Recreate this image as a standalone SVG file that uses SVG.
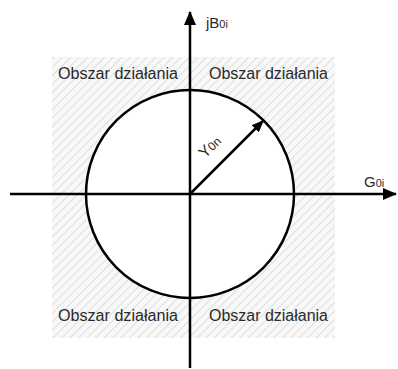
<svg xmlns="http://www.w3.org/2000/svg" width="398" height="369" viewBox="0 0 398 369">
<defs>
<pattern id="hatch" patternUnits="userSpaceOnUse" width="6" height="6" patternTransform="rotate(45)">
<rect width="6" height="6" fill="#f8f8f8"/>
<line x1="0" y1="0" x2="0" y2="6" stroke="#d6d6d6" stroke-width="1.6"/>
</pattern>
<marker id="arr" viewBox="0 0 12 10" refX="11" refY="5" markerWidth="12" markerHeight="10" markerUnits="userSpaceOnUse" orient="auto">
<path d="M0,0 L12,5 L0,10 Z" fill="#000"/>
</marker>
<marker id="arrBig" viewBox="0 0 14 12" refX="13" refY="6" markerWidth="14" markerHeight="12" markerUnits="userSpaceOnUse" orient="auto">
<path d="M0,0 L14,6 L0,12 Z" fill="#000"/>
</marker>
</defs>
<style>
.lbl{font-family:"Liberation Sans",Arial,sans-serif;font-size:16px;fill:#2a2a2a}
.ax{font-family:"Liberation Sans",Arial,sans-serif;fill:#2a2a2a}
.ln{stroke:#000;stroke-width:2.5;fill:none}
</style>
<rect x="0" y="0" width="398" height="369" fill="#fff"/>
<g id="region">
<rect x="52" y="57" width="283" height="281" fill="url(#hatch)"/>
</g>
<g id="circle">
<circle cx="190" cy="194" r="104" fill="#fff" stroke="#000" stroke-width="2.5"/>
</g>
<g id="connectors">
<line class="ln" x1="10" y1="194" x2="396" y2="194" marker-end="url(#arrBig)"/>
<line class="ln" x1="190" y1="368" x2="190" y2="12" marker-end="url(#arrBig)"/>
<line class="ln" x1="190" y1="194" x2="263" y2="121" marker-end="url(#arr)"/>
</g>
<g id="labels">
<text class="lbl" x="58" y="79" textLength="120" lengthAdjust="spacingAndGlyphs">Obszar działania</text>
<text class="lbl" x="209" y="79" textLength="119" lengthAdjust="spacingAndGlyphs">Obszar działania</text>
<text class="lbl" x="58" y="321" textLength="120" lengthAdjust="spacingAndGlyphs">Obszar działania</text>
<text class="lbl" x="209" y="321" textLength="119" lengthAdjust="spacingAndGlyphs">Obszar działania</text>
<text class="ax" x="206" y="28" font-size="15">jB<tspan font-size="11">0i</tspan></text>
<text class="ax" x="364" y="187" font-size="15">G<tspan font-size="11">0i</tspan></text>
<text class="ax" transform="translate(205,159) rotate(-45)" font-size="16">Y<tspan font-size="12">0n</tspan></text>
</g>
</svg>
